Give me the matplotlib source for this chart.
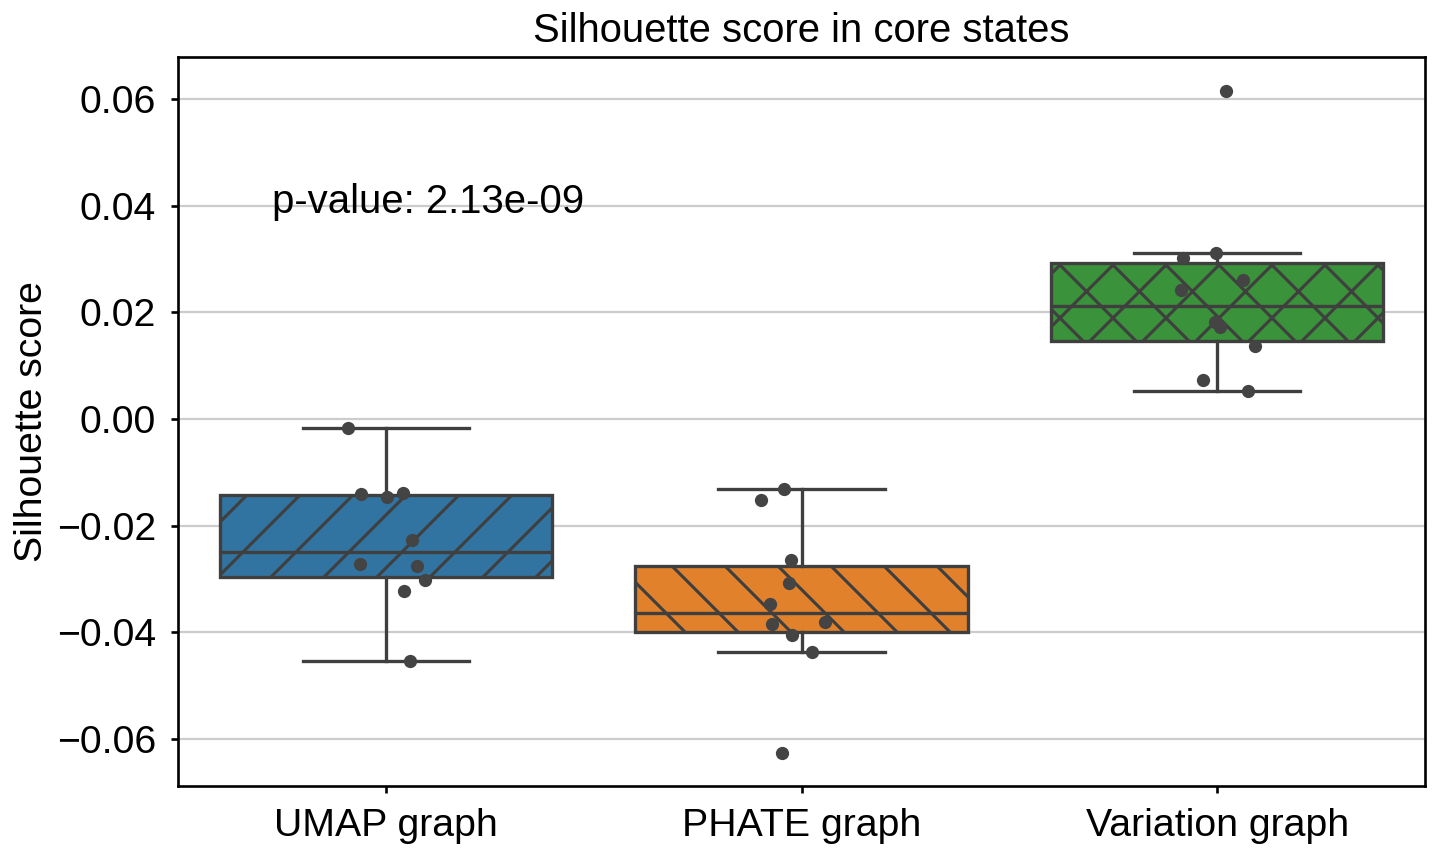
import matplotlib
matplotlib.use("Agg")
import matplotlib.pyplot as plt
import numpy as np

# silhouette scores per method
categories = ["UMAP graph", "PHATE graph", "Variation graph"]
umap_scores = [-0.0017, -0.0141, -0.0146, -0.0139, -0.0226, -0.0272, -0.0276, -0.0302, -0.0323, -0.0454]
phate_scores = [-0.0131, -0.0151, -0.0264, -0.0308, -0.0347, -0.0385, -0.0381, -0.0404, -0.0436, -0.0627]
variation_scores = [0.0616, 0.0311, 0.0303, 0.0260, 0.0243, 0.0182, 0.0173, 0.0138, 0.0074, 0.0052]

# strip jitter as seen in the figure (fraction of category spacing)
umap_jitter = [-0.091, -0.060, 0.002, 0.041, 0.063, -0.063, 0.075, 0.094, 0.043, 0.058]
phate_jitter = [-0.042, -0.097, -0.025, -0.030, -0.075, -0.071, 0.057, -0.023, 0.025, -0.047]
variation_jitter = [0.022, -0.002, -0.083, 0.063, -0.086, -0.006, 0.008, 0.090, -0.035, 0.073]

p_value = 2.13e-09

colors = ["#3274a1", "#e1812c", "#3a923a"]
hatches = ["//", "\\\\", "xx"]
line_col = "#3f3f3f"

DPI = 318
plt.rcParams['font.family'] = ['Liberation Sans', 'DejaVu Sans']
plt.rcParams['font.size'] = 8.9
plt.rcParams['hatch.linewidth'] = 0.7
plt.rcParams['hatch.color'] = line_col

fig = plt.figure(figsize=(1441 / DPI, 854 / DPI), dpi=DPI)
ax = fig.add_axes([178 / 1441, 1 - 786 / 854, (1425 - 178) / 1441, (786 - 57) / 854])

data = [umap_scores, phate_scores, variation_scores]
jitters = [umap_jitter, phate_jitter, variation_jitter]
pos = np.arange(len(categories))

bp = ax.boxplot(data, positions=pos, widths=0.8, patch_artist=True, showfliers=False,
                whis=1.5,
                medianprops=dict(color=line_col, linewidth=0.75),
                whiskerprops=dict(color=line_col, linewidth=0.75),
                capprops=dict(color=line_col, linewidth=0.75),
                boxprops=dict(edgecolor=line_col, linewidth=0.75), zorder=2)
for patch, c, h in zip(bp['boxes'], colors, hatches):
    patch.set_facecolor(c)
    patch.set_hatch(h)
    patch.set_edgecolor(line_col)

for i, (vals, jit) in enumerate(zip(data, jitters)):
    ax.scatter(i + np.array(jit), vals, s=9, color="#444444", zorder=3, linewidths=0)

ax.text(-0.275, 0.0386, "p-value: {:.2e}".format(p_value), ha='left', va='baseline', fontsize=9.1)

ax.set_xlim(-0.5, 2.5)
ax.set_ylim(-0.0688, 0.0679)
ax.set_yticks([-0.06, -0.04, -0.02, 0.0, 0.02, 0.04, 0.06])
ax.set_xticks(pos)
ax.set_xticklabels(categories)
ax.yaxis.grid(True, color="#cccccc", linewidth=0.5)
ax.set_axisbelow(True)
ax.tick_params(length=1.5, width=0.6)
for s in ax.spines.values():
    s.set_linewidth(0.6)

ax.set_ylabel("Silhouette score", labelpad=1.5)
ax.set_title("Silhouette score in core states", pad=3.5, fontsize=9.05)

fig.savefig("out.png", dpi=DPI)
